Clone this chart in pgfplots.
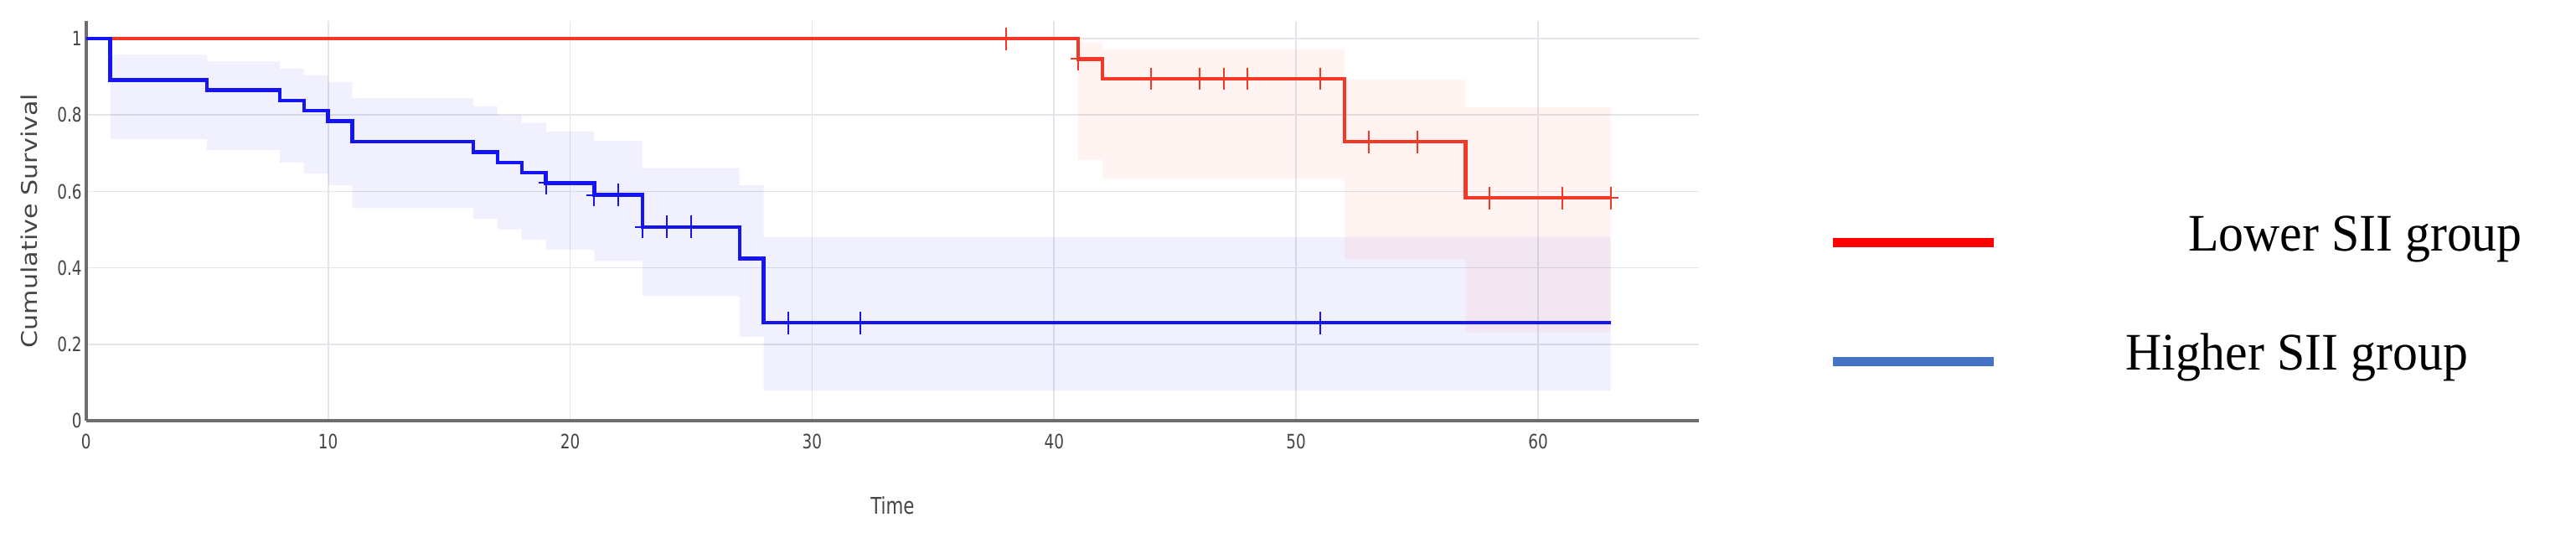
\documentclass[border=0pt]{standalone}
\usepackage{fontspec}
\usepackage{pgfplots}
\usepackage{pgfplotstable}
\pgfplotsset{compat=1.18}
\usepgfplotslibrary{fillbetween}
\setmainfont{Liberation Serif}
\newfontfamily\tickfont[FakeStretch=0.78]{DejaVu Sans}
\newfontfamily\ylabfont[FakeStretch=1.17]{DejaVu Sans}
\newfontfamily\legfont[FakeStretch=0.95]{Liberation Serif}

\definecolor{kmred}{RGB}{245,55,40}
\definecolor{kmblue}{RGB}{20,20,245}
\definecolor{bandred}{RGB}{255,60,40}
\definecolor{bandblue}{RGB}{0,0,255}
\definecolor{legred}{RGB}{255,0,0}
\definecolor{legblue}{RGB}{68,114,196}
\definecolor{gridc}{RGB}{228,228,234}
\definecolor{axisc}{RGB}{110,110,110}
\definecolor{labc}{RGB}{68,68,68}

% Kaplan-Meier steps
\pgfplotstableread{
t  s
0  1
1  0.892
5  0.865
8  0.838
9  0.811
10 0.784
11 0.730
16 0.703
17 0.676
18 0.649
19 0.622
21 0.591
23 0.507
27 0.424
28 0.256
63 0.256
}\tabHigh

\pgfplotstableread{
t  s
0  1
41 0.947
42 0.895
52 0.730
57 0.583
63 0.583
}\tabLow

% censored observations
\pgfplotstableread{
t  s
19 0.622
21 0.591
22 0.591
23 0.507
24 0.507
25 0.507
29 0.256
32 0.256
51 0.256
}\cenHigh

\pgfplotstableread{
t  s
38 1
41 0.947
44 0.895
46 0.895
47 0.895
48 0.895
51 0.895
53 0.730
55 0.730
58 0.583
61 0.583
63 0.583
}\cenLow

% confidence bands
\pgfplotstableread{
t  up    lo
1  0.958 0.737
5  0.940 0.709
8  0.922 0.676
9  0.904 0.647
10 0.886 0.616
11 0.844 0.556
16 0.823 0.529
17 0.800 0.501
18 0.780 0.474
19 0.757 0.447
21 0.733 0.418
23 0.661 0.326
27 0.616 0.220
28 0.481 0.078
63 0.481 0.078
}\bandHigh

\pgfplotstableread{
t  up    lo
41 0.990 0.683
42 0.971 0.634
52 0.892 0.421
57 0.821 0.231
63 0.821 0.231
}\bandLow

\begin{document}
\begin{tikzpicture}
\begin{axis}[
  at={(0pt,0pt)}, anchor=south west,
  scale only axis, width=481.5pt, height=119.2pt,
  xmin=0, xmax=66.65, ymin=0, ymax=1.046,
  axis lines=left, axis line style={-, draw=axisc, line width=1pt},
  major tick length=0pt,
  xtick={0,10,...,60}, ytick={0,0.2,0.4,0.6,0.8,1},
  grid=major, grid style={draw=gridc, line width=0.45pt},
  /pgf/number format/assume math mode=true,
  tick label style={font=\tickfont\fontsize{5.9pt}{6pt}\selectfont, text=labc},
  xticklabel style={anchor=center, yshift=-6.25pt},
  yticklabel style={anchor=east, inner sep=0pt, xshift=-1.1pt},
  xlabel={Time}, ylabel={Cumulative Survival},
  xlabel style={at={(axis description cs:0.5,0)}, anchor=center, yshift=-25.25pt,
    font=\tickfont\fontsize{6.85pt}{7pt}\selectfont, text=labc},
  ylabel style={at={(axis description cs:-0.0351,0.5)}, anchor=center,
    font=\ylabfont\fontsize{6.45pt}{7pt}\selectfont, text=labc},
  legend image code/.code={\draw[#1, line width=2.75pt] (0pt,0pt) -- (48pt,0pt);},
  legend style={draw=none, fill=none, inner sep=0pt, outer sep=0pt,
    at={(axis description cs:1.0801,0.5159)}, anchor=north west,
    row sep=18.5pt, column sep=38pt,
    nodes={inner sep=0pt, text height=11pt, text depth=6pt},
    cells={anchor=west},
    font=\legfont\fontsize{15.75pt}{16pt}\selectfont},
]
% bands
\addplot[name path=bhu, draw=none, const plot, forget plot] table[x=t, y=up] \bandHigh;
\addplot[name path=bhl, draw=none, const plot, forget plot] table[x=t, y=lo] \bandHigh;
\addplot[fill=bandblue, fill opacity=0.06, draw=none, forget plot] fill between[of=bhu and bhl];
\addplot[name path=blu, draw=none, const plot, forget plot] table[x=t, y=up] \bandLow;
\addplot[name path=bll, draw=none, const plot, forget plot] table[x=t, y=lo] \bandLow;
\addplot[fill=bandred, fill opacity=0.06, draw=none, forget plot] fill between[of=blu and bll];
% curves
\addplot[kmred, line width=1.1pt, const plot, forget plot] table[x=t, y=s] \tabLow;
\addplot[kmblue, line width=1.1pt, const plot, forget plot] table[x=t, y=s] \tabHigh;
\addplot[kmred, only marks, mark=+, mark size=2.25pt,
  mark options={yscale=1.5, line width=0.5pt}, forget plot] table[x=t, y=s] \cenLow;
\addplot[kmblue, only marks, mark=+, mark size=2.25pt,
  mark options={yscale=1.5, line width=0.5pt}, forget plot] table[x=t, y=s] \cenHigh;
% legend
\addlegendimage{legred}
\addlegendentry{\hspace*{18.7pt}Lower SII group}
\addlegendimage{legblue}
\addlegendentry{Higher SII group}
\end{axis}
\pgfresetboundingbox
\path[use as bounding box] (-25.7pt,-35pt) rectangle (743.3pt,125.5pt);
\end{tikzpicture}
\end{document}
